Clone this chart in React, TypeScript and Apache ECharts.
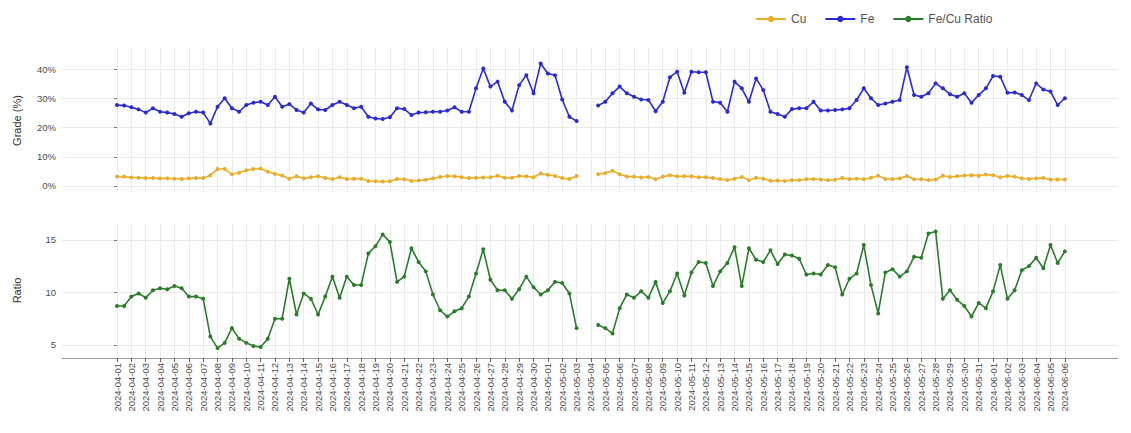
import { useEffect, useRef } from "react";
import * as echarts from "echarts";

// Sample dates: two samples per day, one label per day (on the first sample).
const sampleDays = [
  "2024-04-01", "2024-04-02", "2024-04-03", "2024-04-04", "2024-04-05", "2024-04-06", "2024-04-07",
  "2024-04-08", "2024-04-09", "2024-04-10", "2024-04-11", "2024-04-12", "2024-04-13", "2024-04-14",
  "2024-04-15", "2024-04-16", "2024-04-17", "2024-04-18", "2024-04-19", "2024-04-20", "2024-04-21",
  "2024-04-22", "2024-04-23", "2024-04-24", "2024-04-25", "2024-04-26", "2024-04-27", "2024-04-28",
  "2024-04-29", "2024-04-30", "2024-05-01", "2024-05-02", "2024-05-03", "2024-05-04", "2024-05-05",
  "2024-05-06", "2024-05-07", "2024-05-08", "2024-05-09", "2024-05-10", "2024-05-11", "2024-05-12",
  "2024-05-13", "2024-05-14", "2024-05-15", "2024-05-16", "2024-05-17", "2024-05-18", "2024-05-19",
  "2024-05-20", "2024-05-21", "2024-05-22", "2024-05-23", "2024-05-24", "2024-05-25", "2024-05-26",
  "2024-05-27", "2024-05-28", "2024-05-29", "2024-05-30", "2024-05-31", "2024-06-01", "2024-06-02",
  "2024-06-03", "2024-06-04", "2024-06-05", "2024-06-06",
];

// Copper grade (%) per sample; null = no sample taken
const cuGrade = [
  3.2, 3.2, 2.9, 2.8, 2.7, 2.7, 2.6, 2.6, 2.5, 2.4,
  2.6, 2.7, 2.7, 3.7, 5.8, 5.8, 4.0, 4.5, 5.4, 5.8,
  6.0, 4.9, 4.1, 3.6, 2.5, 3.3, 2.6, 3.0, 3.3, 2.7,
  2.4, 3.0, 2.4, 2.5, 2.5, 1.7, 1.6, 1.5, 1.6, 2.4,
  2.3, 1.7, 1.9, 2.1, 2.6, 3.1, 3.4, 3.3, 3.0, 2.7,
  2.8, 2.9, 3.0, 3.5, 2.8, 2.8, 3.4, 3.3, 3.0, 4.3,
  3.8, 3.4, 2.7, 2.4, 3.4,
  null, null,
  4.0, 4.4, 5.2, 4.0, 3.2, 3.2, 2.9, 3.1, 2.3, 3.2,
  3.7, 3.3, 3.3, 3.3, 3.0, 3.0, 2.7, 2.4, 2.0, 2.5,
  3.1, 2.0, 2.8, 2.5, 1.8, 1.9, 1.7, 2.0, 2.0, 2.3,
  2.4, 2.2, 2.0, 2.1, 2.7, 2.4, 2.5, 2.3, 2.8, 3.5,
  2.4, 2.4, 2.6, 3.4, 2.3, 2.3, 2.0, 2.2, 3.5, 3.1,
  3.3, 3.6, 3.7, 3.5, 3.9, 3.7, 3.0, 3.4, 3.2, 2.6,
  2.4, 2.6, 2.7, 2.2, 2.2, 2.2,
];

// Iron grade (%) per sample
const feGrade = [
  27.7, 27.5, 26.9, 26.2, 25.1, 26.6, 25.4, 25.1, 24.6, 23.7,
  24.9, 25.4, 25.1, 21.4, 27.1, 30.0, 26.6, 25.4, 27.7, 28.5,
  28.8, 27.7, 30.5, 27.1, 28.0, 26.0, 25.1, 28.2, 26.2, 26.0,
  27.7, 28.8, 27.7, 26.6, 27.1, 23.7, 23.1, 22.9, 23.5, 26.6,
  26.3, 24.3, 25.1, 25.2, 25.4, 25.4, 25.8, 26.9, 25.4, 25.4,
  33.4, 40.2, 34.0, 35.7, 28.8, 25.8, 34.5, 37.9, 31.7, 41.9,
  38.5, 37.9, 29.6, 23.7, 22.2,
  null, null,
  27.5, 28.8, 31.7, 34.0, 31.7, 30.5, 29.6, 29.4, 25.6, 28.8,
  37.2, 39.1, 31.9, 39.1, 38.9, 38.9, 28.8, 28.5, 25.4, 35.7,
  33.4, 28.8, 36.8, 32.8, 25.4, 24.6, 23.7, 26.3, 26.6, 26.6,
  28.8, 25.8, 25.8, 26.0, 26.2, 26.6, 29.4, 33.4, 30.0, 27.7,
  28.2, 28.8, 29.4, 40.6, 31.1, 30.5, 31.7, 35.1, 33.4, 31.4,
  30.5, 31.7, 28.5, 31.1, 33.4, 37.6, 37.4, 31.9, 32.0, 31.1,
  29.4, 35.1, 33.0, 32.3, 27.7, 30.0,
];

// Fe/Cu ratio per sample
const feCuRatio = [
  8.7, 8.7, 9.6, 9.9, 9.5, 10.2, 10.4, 10.3, 10.6, 10.4,
  9.6, 9.6, 9.4, 5.8, 4.7, 5.2, 6.6, 5.6, 5.2, 4.9,
  4.8, 5.6, 7.5, 7.5, 11.3, 7.9, 9.9, 9.4, 7.9, 9.6,
  11.5, 9.5, 11.5, 10.7, 10.7, 13.7, 14.4, 15.5, 14.8, 11.0,
  11.5, 14.2, 12.9, 12.0, 9.8, 8.3, 7.7, 8.2, 8.5, 9.6,
  11.8, 14.1, 11.2, 10.2, 10.2, 9.4, 10.3, 11.5, 10.5, 9.8,
  10.2, 11.0, 10.9, 9.9, 6.6,
  null, null,
  6.9, 6.6, 6.1, 8.5, 9.8, 9.5, 10.1, 9.5, 11.0, 9.0,
  10.1, 11.8, 9.7, 11.9, 12.9, 12.8, 10.6, 12.0, 12.8, 14.3,
  10.6, 14.2, 13.1, 12.9, 14.0, 12.7, 13.6, 13.5, 13.2, 11.7,
  11.8, 11.7, 12.6, 12.4, 9.8, 11.3, 11.8, 14.5, 10.7, 8.0,
  11.9, 12.2, 11.5, 12.0, 13.4, 13.3, 15.6, 15.8, 9.4, 10.2,
  9.3, 8.7, 7.7, 9.0, 8.5, 10.1, 12.6, 9.4, 10.2, 12.1,
  12.5, 13.3, 12.3, 14.5, 12.8, 13.9,
];

const gradeTicks = [0, 10, 20, 30, 40];
const ratioTicks = [5, 10, 15];

const COLORS = { cu: "#E9AE2B", fe: "#2A2AD6", ratio: "#2B7D2B" };
const FONT = "Liberation Sans, Arial, sans-serif";

export default function App() {
  const ref = useRef<HTMLDivElement>(null);

  useEffect(() => {
    const chart = echarts.init(ref.current!, null, { renderer: "svg" });

    const toPoints = (arr: (number | null)[]) =>
      arr.map((v, i) => [i, v === null ? "-" : v]);
    const dayTicks = sampleDays.map((_, k) => k * 2);
    const xMin = -7.66;
    const xMax = 139.4;

    const gridLine = { show: true, lineStyle: { color: "#ebebeb", width: 1 } };

    const option: any = {
      animation: false,
      backgroundColor: "#ffffff",
      textStyle: { fontFamily: FONT },
      legend: {
        top: 8,
        left: 750,
        itemWidth: 30,
        itemHeight: 8,
        itemGap: 18,
        textStyle: { fontSize: 12, color: "#555", fontFamily: FONT },
        data: ["Cu", "Fe", "Fe/Cu Ratio"],
      },
      grid: [
        { left: 62, right: 13, top: 48, height: 145 },
        { left: 62, right: 13, top: 223, height: 135 },
      ],
      xAxis: [
        {
          type: "value",
          gridIndex: 0,
          min: xMin,
          max: xMax,
          axisLine: { show: false },
          axisTick: { show: false, customValues: dayTicks },
          axisLabel: { show: false, customValues: dayTicks },
          splitLine: gridLine,
        },
        {
          type: "value",
          gridIndex: 1,
          min: xMin,
          max: xMax,
          axisLine: { show: true, onZero: false, lineStyle: { color: "#9e9e9e", width: 1 } },
          axisTick: { show: true, customValues: dayTicks, length: 4, lineStyle: { color: "#666" } },
          axisLabel: {
            customValues: dayTicks,
            formatter: (v: number) => sampleDays[Math.round(v / 2)] ?? "",
            rotate: 90,
            fontSize: 9.5,
            color: "#4d4d4d",
            margin: 5,
            fontFamily: FONT,
          },
          splitLine: gridLine,
        },
      ],
      yAxis: [
        {
          type: "value",
          gridIndex: 0,
          min: -2.4,
          max: 47.2,
          name: "Grade (%)",
          nameLocation: "middle",
          nameGap: 40,
          nameTextStyle: { fontSize: 11, color: "#333", fontFamily: FONT },
          axisLine: { show: false },
          axisTick: { show: true, customValues: gradeTicks, length: 3, lineStyle: { color: "#777" } },
          axisLabel: {
            customValues: gradeTicks,
            formatter: (v: number) => `${v}%`,
            fontSize: 9.5,
            color: "#4d4d4d",
            margin: 6,
            fontFamily: FONT,
          },
          splitLine: gridLine,
        },
        {
          type: "value",
          gridIndex: 1,
          min: 3.76,
          max: 16.6,
          name: "Ratio",
          nameLocation: "middle",
          nameGap: 40,
          nameTextStyle: { fontSize: 11, color: "#333", fontFamily: FONT },
          axisLine: { show: false },
          axisTick: { show: true, customValues: ratioTicks, length: 3, lineStyle: { color: "#777" } },
          axisLabel: {
            customValues: ratioTicks,
            fontSize: 9.5,
            color: "#4d4d4d",
            margin: 6,
            fontFamily: FONT,
          },
          splitLine: gridLine,
        },
      ],
      series: [
        {
          name: "Cu",
          type: "line",
          xAxisIndex: 0,
          yAxisIndex: 0,
          data: toPoints(cuGrade),
          color: COLORS.cu,
          symbol: "circle",
          symbolSize: 4,
          lineStyle: { width: 1.6 },
          connectNulls: false,
        },
        {
          name: "Fe",
          type: "line",
          xAxisIndex: 0,
          yAxisIndex: 0,
          data: toPoints(feGrade),
          color: COLORS.fe,
          symbol: "circle",
          symbolSize: 4,
          lineStyle: { width: 1.6 },
          connectNulls: false,
        },
        {
          name: "Fe/Cu Ratio",
          type: "line",
          xAxisIndex: 1,
          yAxisIndex: 1,
          data: toPoints(feCuRatio),
          color: COLORS.ratio,
          symbol: "circle",
          symbolSize: 4,
          lineStyle: { width: 1.6 },
          connectNulls: false,
        },
      ],
    };

    chart.setOption(option);
    return () => chart.dispose();
  }, []);

  return (
    <div
      ref={ref}
      style={{ position: "fixed", left: 0, top: 0, width: 1131, height: 433, background: "#fff" }}
    />
  );
}
